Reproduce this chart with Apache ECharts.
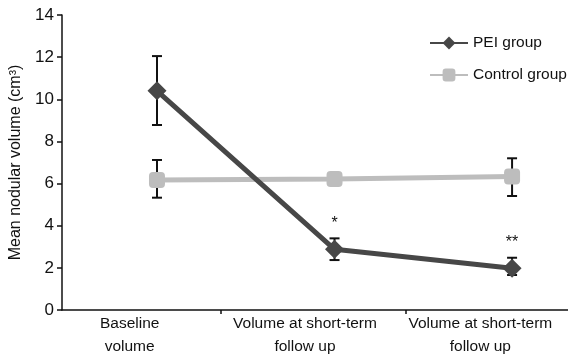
<!DOCTYPE html>
<html><head><meta charset="utf-8">
<script src="https://cdn.jsdelivr.net/npm/echarts@6/dist/echarts.min.js"></script>
<style>html,body{margin:0;padding:0;background:#fff}#c{width:568px;height:358px}</style>
</head><body><div id="c"></div>
<script>
const categories = ['Baseline\nvolume', 'Volume at short-term\nfollow up', 'Volume at short-term\nfollow up'];
const peiMean = [10.4, 2.88, 1.98];
const peiLow = [8.78, 2.37, 1.66];
const peiHigh = [12.05, 3.4, 2.48];
const ctrlMean = [6.17, 6.22, 6.33];
const ctrlLow = [5.33, 6.22, 5.41];
const ctrlHigh = [7.12, 6.22, 7.2];
const peiMarks = ['', '*', '**'];
const xBoundaryTicks = [0.361, 1.403];

const FONT = '"Liberation Sans", Arial, sans-serif';
const chart = echarts.init(document.getElementById('c'));

function errBars(low, high) {
  return low.map((l, i) => [i, l, high[i]]);
}
const errRender = function (params, api) {
  const x = api.value(0);
  const lo = api.coord([x, api.value(1)]);
  const hi = api.coord([x, api.value(2)]);
  const w = 5;
  const st = { stroke: '#111', lineWidth: 2 };
  return {
    type: 'group',
    children: [
      { type: 'line', shape: { x1: lo[0], y1: lo[1], x2: hi[0], y2: hi[1] }, style: st },
      { type: 'line', shape: { x1: lo[0] - w, y1: lo[1], x2: lo[0] + w, y2: lo[1] }, style: st },
      { type: 'line', shape: { x1: hi[0] - w, y1: hi[1], x2: hi[0] + w, y2: hi[1] }, style: st }
    ]
  };
};

chart.setOption({
  animation: false,
  backgroundColor: '#fff',
  textStyle: { fontFamily: FONT },
  grid: [
    { left: 62, right: 0, top: 15, bottom: 48 },
    { left: 42, width: 540, top: 15, bottom: 48 }
  ],
  legend: {
    orient: 'vertical', left: 424, top: 30, itemWidth: 38, itemHeight: 16, itemGap: 16,
    textStyle: { fontFamily: FONT, fontSize: 15.5, color: '#111' },
    data: ['PEI group', 'Control group']
  },
  xAxis: [
    { type: 'value', gridIndex: 0, min: -0.535, max: 2.315,
      axisLine: { show: true, onZero: false, lineStyle: { color: '#111', width: 1.5 } },
      axisTick: { show: true, length: 4, customValues: xBoundaryTicks, lineStyle: { color: '#111', width: 1.5 } },
      axisLabel: { show: false }, splitLine: { show: false } },
    { type: 'category', gridIndex: 1, data: categories, boundaryGap: true,
      axisLine: { show: false }, axisTick: { show: false },
      axisLabel: { fontFamily: FONT, fontSize: 15.5, color: '#111', lineHeight: 23, margin: 8, interval: 0 } }
  ],
  yAxis: [
    { type: 'value', gridIndex: 0, min: 0, max: 14, interval: 2,
      name: 'Mean nodular volume (cm³)', nameLocation: 'middle', nameGap: 38,
      nameTextStyle: { fontFamily: FONT, fontSize: 16, color: '#111' },
      axisLine: { show: true, onZero: false, lineStyle: { color: '#111', width: 1.5 } },
      axisTick: { show: true, length: 5, lineStyle: { color: '#111', width: 1.5 } },
      axisLabel: { fontFamily: FONT, fontSize: 17, color: '#111', margin: 8 },
      splitLine: { show: false } },
    { type: 'value', gridIndex: 1, min: 0, max: 14, show: false }
  ],
  series: [
    { type: 'custom', name: 'peiErr', xAxisIndex: 0, yAxisIndex: 0, z: 1,
      renderItem: errRender, data: errBars(peiLow, peiHigh), silent: true },
    { type: 'custom', name: 'ctrlErr', xAxisIndex: 0, yAxisIndex: 0, z: 1,
      renderItem: errRender, data: errBars(ctrlLow, ctrlHigh), silent: true },
    { type: 'line', name: 'Control group', xAxisIndex: 0, yAxisIndex: 0, z: 3,
      data: ctrlMean.map((v, i) => [i, v]),
      symbol: 'roundRect', symbolSize: 16, color: '#bdbdbd',
      lineStyle: { width: 5, color: '#bdbdbd' }, itemStyle: { color: '#bdbdbd' } },
    { type: 'line', name: 'PEI group', xAxisIndex: 0, yAxisIndex: 0, z: 4,
      data: peiMean.map((v, i) => [i, v]),
      symbol: 'diamond', symbolSize: 19, color: '#474747',
      lineStyle: { width: 5, color: '#474747' }, itemStyle: { color: '#474747' } },
    { type: 'custom', name: 'marks', xAxisIndex: 0, yAxisIndex: 0, z: 5, silent: true,
      data: peiHigh.map((v, i) => [i, v, i]),
      renderItem: function (params, api) {
        const p = api.coord([api.value(0), api.value(1)]);
        const t = peiMarks[api.value(2)];
        return { type: 'text', x: p[0], y: p[1] - 7,
          style: { text: t, fontFamily: FONT, fontSize: 16, fill: '#111', align: 'center', verticalAlign: 'bottom' } };
      } }
  ]
});
</script></body></html>
